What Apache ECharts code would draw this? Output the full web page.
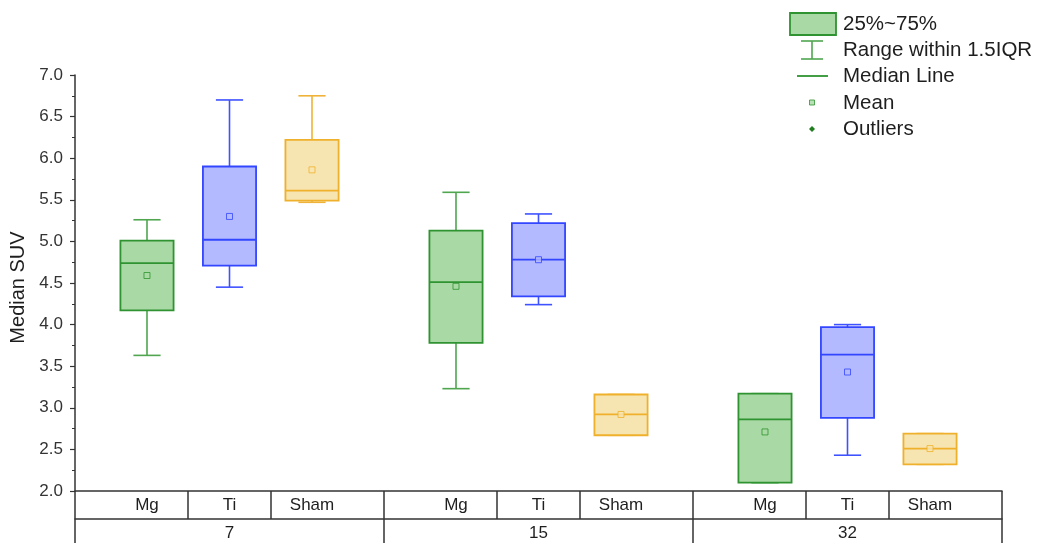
<!DOCTYPE html>
<html>
<head>
<meta charset="utf-8">
<title>Median SUV by implant material and day</title>
<script src="https://cdn.jsdelivr.net/npm/echarts@6/dist/echarts.min.js"></script>
<style>
  html, body { margin: 0; padding: 0; background: #fff; }
  #chart { width: 1040px; height: 543px; }
</style>
</head>
<body>
<div id="chart"></div>
<script>
// Days after implantation (outer axis row) and implant groups (inner axis row)
const groups = ['7', '15', '32'];
const materials = ['Mg', 'Ti', 'Sham'];
const yTicks = [2.0, 7.0];

// Box statistics per day: [lower whisker, Q1, median, Q3, upper whisker]
const mgBox   = [[3.63, 4.17, 4.74, 5.01, 5.26], [3.23, 3.78, 4.51, 5.13, 5.59], [2.10, 2.10, 2.86, 3.17, 3.17]];
const tiBox   = [[4.45, 4.71, 5.02, 5.90, 6.70], [4.24, 4.34, 4.78, 5.22, 5.33], [2.43, 2.88, 3.64, 3.97, 4.00]];
const shamBox = [[5.47, 5.49, 5.61, 6.22, 6.75], [2.67, 2.67, 2.92, 3.16, 3.16], [2.32, 2.32, 2.51, 2.69, 2.69]];

// Mean per day
const mgMean   = [4.59, 4.46, 2.71];
const tiMean   = [5.30, 4.78, 3.43];
const shamMean = [5.86, 2.92, 2.51];

// Styling per material
const styles = [
  { stroke: '#2f9331', whisker: '#4fa64f', fill: '#a9d9a4' },
  { stroke: '#3346ff', whisker: '#3f52ff', fill: '#b3baff' },
  { stroke: '#efb12c', whisker: '#efb33a', fill: '#f7e5b1' }
];

// Layout within one day group (x axis runs 0..3, one unit per day)
const slot = [0.233, 0.5, 0.767];
const boxHalf = 0.086;
const capHalf = 0.044;

const boxSets = [mgBox, tiBox, shamBox];
const meanSets = [mgMean, tiMean, shamMean];

const centers = [];
const edges = [0];
groups.forEach((g, gi) => {
  slot.forEach((s, mi) => {
    centers.push(gi + s);
    if (mi < slot.length - 1) edges.push(gi + (s + slot[mi + 1]) / 2);
  });
  edges.push(gi + 1);
});

function nearestCenter(v) {
  let best = 0;
  centers.forEach((c, i) => { if (Math.abs(c - v) < Math.abs(centers[best] - v)) best = i; });
  return best;
}

function renderBox(params, api) {
  const st = styles[params.seriesIndex];
  const x = api.value(0);
  const lo = api.value(1), q1 = api.value(2), med = api.value(3), q3 = api.value(4), hi = api.value(5), mean = api.value(6);
  const tl = api.coord([x - boxHalf, q3]);
  const br = api.coord([x + boxHalf, q1]);
  const cx = api.coord([x, med])[0];
  const capL = api.coord([x - capHalf, lo])[0];
  const capR = api.coord([x + capHalf, lo])[0];
  const yLo = api.coord([x, lo])[1];
  const yHi = api.coord([x, hi])[1];
  const yMed = api.coord([x, med])[1];
  const yMean = api.coord([x, mean])[1];
  const wStyle = { stroke: st.whisker, lineWidth: 1.6 };
  return {
    type: 'group',
    children: [
      { type: 'line', shape: { x1: cx, y1: yHi, x2: cx, y2: tl[1] }, style: wStyle },
      { type: 'line', shape: { x1: cx, y1: br[1], x2: cx, y2: yLo }, style: wStyle },
      { type: 'line', shape: { x1: capL, y1: yHi, x2: capR, y2: yHi }, style: wStyle },
      { type: 'line', shape: { x1: capL, y1: yLo, x2: capR, y2: yLo }, style: wStyle },
      { type: 'rect', shape: { x: tl[0], y: tl[1], width: br[0] - tl[0], height: br[1] - tl[1] },
        style: { fill: st.fill, stroke: st.stroke, lineWidth: 1.8 } },
      { type: 'line', shape: { x1: tl[0], y1: yMed, x2: br[0], y2: yMed }, style: { stroke: st.stroke, lineWidth: 1.8 } },
      { type: 'rect', shape: { x: cx - 3, y: yMean - 3, width: 6, height: 6 },
        style: { fill: st.fill, stroke: st.stroke, lineWidth: 1, opacity: 0.8 } }
    ]
  };
}

const series = materials.map((name, mi) => ({
  name,
  type: 'custom',
  xAxisIndex: 0,
  yAxisIndex: 0,
  renderItem: renderBox,
  encode: { x: 0, y: [1, 2, 3, 4, 5, 6] },
  data: groups.map((g, gi) => [gi + slot[mi]].concat(boxSets[mi][gi], [meanSets[mi][gi]])),
  z: 5
}));

const font = "'Liberation Sans', Arial, sans-serif";
const ink = '#1e1e1e';
const legendColor = styles[0];
const lx = 812;
const legendFont = '20.5px ' + font;

const option = {
  backgroundColor: '#fff',
  animation: false,
  textStyle: { fontFamily: font },
  grid: { left: 75, right: 38, top: 75, bottom: 52, containLabel: false },
  xAxis: [
    {
      type: 'value', min: 0, max: 3, position: 'bottom',
      axisLine: { show: true, lineStyle: { color: '#333', width: 1.5 } },
      axisTick: { show: true, customValues: edges, length: 28, inside: false, lineStyle: { color: '#333', width: 1.5 } },
      axisLabel: {
        show: true, customValues: centers, margin: 6, fontSize: 17, color: ink, fontFamily: font,
        formatter: v => materials[nearestCenter(v) % materials.length]
      },
      splitLine: { show: false }
    },
    {
      type: 'category', data: groups, position: 'bottom', offset: 28, boundaryGap: true,
      axisLine: { show: true, lineStyle: { color: '#333', width: 1.5 } },
      axisTick: { show: true, length: 28, inside: false, interval: 0, lineStyle: { color: '#333', width: 1.5 } },
      axisLabel: { margin: 6, fontSize: 17, color: ink, fontFamily: font, interval: 0 },
      splitLine: { show: false }
    }
  ],
  yAxis: {
    type: 'value', min: yTicks[0], max: yTicks[1], interval: 0.5,
    name: 'Median SUV', nameLocation: 'middle', nameGap: 45,
    nameTextStyle: { fontSize: 20, color: ink, fontFamily: font, padding: [0, 9, 0, 0] },
    axisLine: { show: true, lineStyle: { color: '#333', width: 1.5 } },
    axisTick: { show: true, length: 5, inside: false, lineStyle: { color: '#333', width: 1.2 } },
    minorTick: { show: true, splitNumber: 2, length: 3, lineStyle: { color: '#333', width: 1 } },
    axisLabel: { formatter: v => v.toFixed(1), fontSize: 17, color: '#333', margin: 12, fontFamily: font },
    splitLine: { show: false }
  },
  graphic: [
    // legend keys
    { type: 'rect', shape: { x: 790, y: 13, width: 46, height: 22 }, style: { fill: legendColor.fill, stroke: legendColor.stroke, lineWidth: 1.8 } },
    { type: 'line', shape: { x1: lx, y1: 41, x2: lx, y2: 59 }, style: { stroke: legendColor.whisker, lineWidth: 1.6 } },
    { type: 'line', shape: { x1: lx - 11, y1: 41, x2: lx + 11, y2: 41 }, style: { stroke: legendColor.whisker, lineWidth: 1.6 } },
    { type: 'line', shape: { x1: lx - 11, y1: 59, x2: lx + 11, y2: 59 }, style: { stroke: legendColor.whisker, lineWidth: 1.6 } },
    { type: 'line', shape: { x1: 797, y1: 76, x2: 828, y2: 76 }, style: { stroke: legendColor.stroke, lineWidth: 1.8 } },
    { type: 'rect', shape: { x: lx - 2.5, y: 100, width: 5, height: 5 }, style: { fill: legendColor.fill, stroke: legendColor.stroke, lineWidth: 1, opacity: 0.8 } },
    { type: 'polygon', shape: { points: [[lx, 126], [lx + 3, 129], [lx, 132], [lx - 3, 129]] }, style: { fill: '#1f7f1f' } },
    // legend labels
    { type: 'text', x: 843, y: 24, style: { text: '25%~75%', font: legendFont, fill: ink, textVerticalAlign: 'middle' } },
    { type: 'text', x: 843, y: 50, style: { text: 'Range within 1.5IQR', font: legendFont, fill: ink, textVerticalAlign: 'middle' } },
    { type: 'text', x: 843, y: 76, style: { text: 'Median Line', font: legendFont, fill: ink, textVerticalAlign: 'middle' } },
    { type: 'text', x: 843, y: 103, style: { text: 'Mean', font: legendFont, fill: ink, textVerticalAlign: 'middle' } },
    { type: 'text', x: 843, y: 129, style: { text: 'Outliers', font: legendFont, fill: ink, textVerticalAlign: 'middle' } }
  ],
  series
};

const chart = echarts.init(document.getElementById('chart'), null, { renderer: 'canvas' });
chart.setOption(option);
</script>
</body>
</html>
